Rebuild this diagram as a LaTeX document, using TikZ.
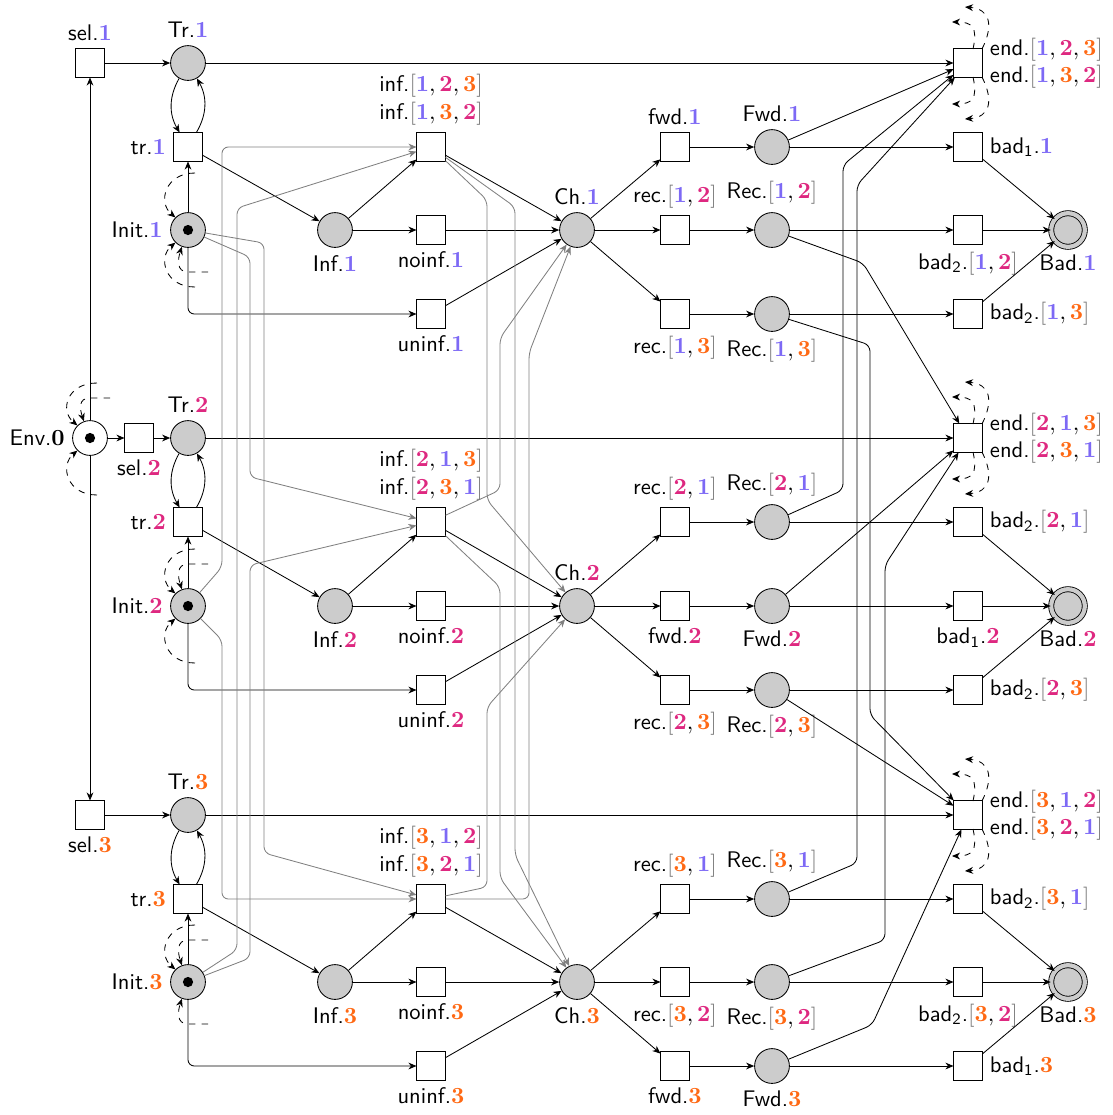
\documentclass[tikz,border=0pt]{standalone}
\usepackage{xcolor}
\usepackage{tikz}
\usetikzlibrary{arrows.meta}

\definecolor{cA}{RGB}{125,105,245}
\definecolor{cB}{RGB}{222,40,128}
\definecolor{cC}{RGB}{255,105,20}
\definecolor{brk}{RGB}{120,120,120}
\newcommand{\iA}{{\color{cA}\mathbf{1}}}
\newcommand{\iB}{{\color{cB}\mathbf{2}}}
\newcommand{\iC}{{\color{cC}\mathbf{3}}}
\newcommand{\lbk}{{\color{brk}[}}
\newcommand{\rbk}{{\color{brk}]}}

\begin{document}
\begin{tikzpicture}[x=0.016667cm, y=-0.016667cm,
  font=\sffamily\fontsize{10.7}{13}\selectfont,
  place/.style={circle,draw,fill=black!20,minimum size=5.8mm,inner sep=0pt},
  trans/.style={rectangle,draw,fill=white,minimum size=4.7mm,inner sep=0pt},
  marked/.style={path picture={\fill[black] (path picture bounding box.center) circle[radius=0.85mm];}},
  badp/.style={place,minimum size=5.6mm,double=black!20,double distance=2pt},
  flow/.style={-{Stealth[length=3.8pt,width=3.2pt,inset=1.2pt]}},
  gflow/.style={flow,gray,rounded corners=3pt},
  ghost/.style={flow,dashed}
]
\useasboundingbox (0,0) rectangle (1113,1115);

% environment and selection
\node[place,fill=white,marked,label={left:{Env.$\mathbf{0}$}}] (Env0) at (90,438) {};
\node[trans,label={above:{sel.$\iA$}}] (sel1) at (90,63) {};
\node[trans,label={below:{sel.$\iB$}}] (sel2) at (139,438) {};
\node[trans,label={below:{sel.$\iC$}}] (sel3) at (90,815) {};

% group 1
\node[place,label={above:{Tr.$\iA$}}] (Tr1) at (188,63) {};
\node[trans,label={left:{tr.$\iA$}}] (tr1) at (188,147) {};
\node[place,marked,label={left:{Init.$\iA$}}] (I1) at (188,230) {};
\node[place,label={below:{Inf.$\iA$}}] (Inf1) at (335,230) {};
\node[trans,label={[align=center]above:{inf.$\lbk\iA,\iB,\iC\rbk$\\inf.$\lbk\iA,\iC,\iB\rbk$}}] (inf1) at (431,147) {};
\node[trans,label={below:{noinf.$\iA$}}] (ninf1) at (431,230) {};
\node[trans,label={below:{uninf.$\iA$}}] (uinf1) at (431,314) {};
\node[place,label={above:{Ch.$\iA$}}] (Ch1) at (577,230) {};
\node[trans,label={above:{fwd.$\iA$}}] (fwd1) at (675,147) {};
\node[trans,label={above:{rec.$\lbk\iA,\iB\rbk$}}] (rec12) at (675,230) {};
\node[trans,label={below:{rec.$\lbk\iA,\iC\rbk$}}] (rec13) at (675,314) {};
\node[place,label={above:{Fwd.$\iA$}}] (Fwd1) at (772,147) {};
\node[place,label={above:{Rec.$\lbk\iA,\iB\rbk$}}] (Rec12) at (772,230) {};
\node[place,label={below:{Rec.$\lbk\iA,\iC\rbk$}}] (Rec13) at (772,314) {};
\node[trans,label={[align=left]right:{end.$\lbk\iA,\iB,\iC\rbk$\\end.$\lbk\iA,\iC,\iB\rbk$}}] (end1) at (968,63) {};
\node[trans,label={right:{bad\textsubscript{1}.$\iA$}}] (bad11) at (968,147) {};
\node[trans,label={below:{bad\textsubscript{2}.$\lbk\iA,\iB\rbk$}}] (bad212) at (968,230) {};
\node[trans,label={right:{bad\textsubscript{2}.$\lbk\iA,\iC\rbk$}}] (bad213) at (968,314) {};
\node[badp,label={below:{Bad.$\iA$}}] (Bad1) at (1068,230) {};

% group 2
\node[place,label={above:{Tr.$\iB$}}] (Tr2) at (188,438) {};
\node[trans,label={left:{tr.$\iB$}}] (tr2) at (188,522) {};
\node[place,marked,label={left:{Init.$\iB$}}] (I2) at (188,606) {};
\node[place,label={below:{Inf.$\iB$}}] (Inf2) at (335,606) {};
\node[trans,label={[align=center]above:{inf.$\lbk\iB,\iA,\iC\rbk$\\inf.$\lbk\iB,\iC,\iA\rbk$}}] (inf2) at (431,522) {};
\node[trans,label={below:{noinf.$\iB$}}] (ninf2) at (431,606) {};
\node[trans,label={below:{uninf.$\iB$}}] (uinf2) at (431,690) {};
\node[place,label={above:{Ch.$\iB$}}] (Ch2) at (577,606) {};
\node[trans,label={above:{rec.$\lbk\iB,\iA\rbk$}}] (rec21) at (675,522) {};
\node[trans,label={below:{fwd.$\iB$}}] (fwd2) at (675,606) {};
\node[trans,label={below:{rec.$\lbk\iB,\iC\rbk$}}] (rec23) at (675,690) {};
\node[place,label={above:{Rec.$\lbk\iB,\iA\rbk$}}] (Rec21) at (772,522) {};
\node[place,label={below:{Fwd.$\iB$}}] (Fwd2) at (772,606) {};
\node[place,label={below:{Rec.$\lbk\iB,\iC\rbk$}}] (Rec23) at (772,690) {};
\node[trans,label={[align=left]right:{end.$\lbk\iB,\iA,\iC\rbk$\\end.$\lbk\iB,\iC,\iA\rbk$}}] (end2) at (968,438) {};
\node[trans,label={right:{bad\textsubscript{2}.$\lbk\iB,\iA\rbk$}}] (bad221) at (968,522) {};
\node[trans,label={below:{bad\textsubscript{1}.$\iB$}}] (bad12) at (968,606) {};
\node[trans,label={right:{bad\textsubscript{2}.$\lbk\iB,\iC\rbk$}}] (bad223) at (968,690) {};
\node[badp,label={below:{Bad.$\iB$}}] (Bad2) at (1068,606) {};

% group 3
\node[place,label={above:{Tr.$\iC$}}] (Tr3) at (188,815) {};
\node[trans,label={left:{tr.$\iC$}}] (tr3) at (188,899) {};
\node[place,marked,label={left:{Init.$\iC$}}] (I3) at (188,982) {};
\node[place,label={below:{Inf.$\iC$}}] (Inf3) at (335,982) {};
\node[trans,label={[align=center]above:{inf.$\lbk\iC,\iA,\iB\rbk$\\inf.$\lbk\iC,\iB,\iA\rbk$}}] (inf3) at (431,899) {};
\node[trans,label={below:{noinf.$\iC$}}] (ninf3) at (431,982) {};
\node[trans,label={below:{uninf.$\iC$}}] (uinf3) at (431,1066) {};
\node[place,label={below:{Ch.$\iC$}}] (Ch3) at (577,982) {};
\node[trans,label={above:{rec.$\lbk\iC,\iA\rbk$}}] (rec31) at (675,899) {};
\node[trans,label={below:{rec.$\lbk\iC,\iB\rbk$}}] (rec32) at (675,982) {};
\node[trans,label={below:{fwd.$\iC$}}] (fwd3) at (675,1066) {};
\node[place,label={above:{Rec.$\lbk\iC,\iA\rbk$}}] (Rec31) at (772,899) {};
\node[place,label={below:{Rec.$\lbk\iC,\iB\rbk$}}] (Rec32) at (772,982) {};
\node[place,label={below:{Fwd.$\iC$}}] (Fwd3) at (772,1066) {};
\node[trans,label={[align=left]right:{end.$\lbk\iC,\iA,\iB\rbk$\\end.$\lbk\iC,\iB,\iA\rbk$}}] (end3) at (968,815) {};
\node[trans,label={right:{bad\textsubscript{2}.$\lbk\iC,\iA\rbk$}}] (bad231) at (968,899) {};
\node[trans,label={below:{bad\textsubscript{2}.$\lbk\iC,\iB\rbk$}}] (bad232) at (968,982) {};
\node[trans,label={right:{bad\textsubscript{1}.$\iC$}}] (bad13) at (968,1066) {};
\node[badp,label={below:{Bad.$\iC$}}] (Bad3) at (1068,982) {};

% selection arcs
\draw[flow] (Env0) -- (sel1);
\draw[flow] (Env0) -- (sel2);
\draw[flow] (Env0) -- (sel3);
\draw[flow] (sel1) -- (Tr1);
\draw[flow] (sel2) -- (Tr2);
\draw[flow] (sel3) -- (Tr3);

% group 1 arcs
\draw[flow] (Tr1) to[bend right=30] (tr1);
\draw[flow] (tr1) to[bend right=30] (Tr1);
\draw[flow] (I1) -- (tr1);
\draw[flow] (tr1) -- (Inf1);
\draw[flow,rounded corners=3pt] (I1) |- (uinf1);
\draw[flow] (Inf1) -- (inf1);
\draw[flow] (Inf1) -- (ninf1);
\draw[flow] (inf1) -- (Ch1);
\draw[flow] (ninf1) -- (Ch1);
\draw[flow] (uinf1) -- (Ch1);
\draw[flow] (Ch1) -- (fwd1);
\draw[flow] (Ch1) -- (rec12);
\draw[flow] (Ch1) -- (rec13);
\draw[flow] (fwd1) -- (Fwd1);
\draw[flow] (rec12) -- (Rec12);
\draw[flow] (rec13) -- (Rec13);
\draw[flow] (Tr1) -- (end1);
\draw[flow] (Fwd1) -- (end1);
\draw[flow] (Fwd1) -- (bad11);
\draw[flow] (Rec12) -- (bad212);
\draw[flow] (Rec13) -- (bad213);
\draw[flow] (bad11) -- (Bad1);
\draw[flow] (bad212) -- (Bad1);
\draw[flow] (bad213) -- (Bad1);
\draw[flow,rounded corners=3pt] (Rec12) -- (863,263) -- (end2);
\draw[flow,rounded corners=3pt] (Rec13) -- (870,345) -- (870,715) -- (end3);

% group 2 arcs
\draw[flow] (Tr2) to[bend right=30] (tr2);
\draw[flow] (tr2) to[bend right=30] (Tr2);
\draw[flow] (I2) -- (tr2);
\draw[flow] (tr2) -- (Inf2);
\draw[flow,rounded corners=3pt] (I2) |- (uinf2);
\draw[flow] (Inf2) -- (inf2);
\draw[flow] (Inf2) -- (ninf2);
\draw[flow] (inf2) -- (Ch2);
\draw[flow] (ninf2) -- (Ch2);
\draw[flow] (uinf2) -- (Ch2);
\draw[flow] (Ch2) -- (rec21);
\draw[flow] (Ch2) -- (fwd2);
\draw[flow] (Ch2) -- (rec23);
\draw[flow] (rec21) -- (Rec21);
\draw[flow] (fwd2) -- (Fwd2);
\draw[flow] (rec23) -- (Rec23);
\draw[flow] (Tr2) -- (end2);
\draw[flow] (Fwd2) -- (end2);
\draw[flow] (Fwd2) -- (bad12);
\draw[flow] (Rec21) -- (bad221);
\draw[flow] (Rec23) -- (bad223);
\draw[flow] (bad221) -- (Bad2);
\draw[flow] (bad12) -- (Bad2);
\draw[flow] (bad223) -- (Bad2);
\draw[flow,rounded corners=3pt] (Rec21) -- (843,490) -- (843,165) -- (end1);
\draw[flow] (Rec23) -- (end3);

% group 3 arcs
\draw[flow] (Tr3) to[bend right=30] (tr3);
\draw[flow] (tr3) to[bend right=30] (Tr3);
\draw[flow] (I3) -- (tr3);
\draw[flow] (tr3) -- (Inf3);
\draw[flow,rounded corners=3pt] (I3) |- (uinf3);
\draw[flow] (Inf3) -- (inf3);
\draw[flow] (Inf3) -- (ninf3);
\draw[flow] (inf3) -- (Ch3);
\draw[flow] (ninf3) -- (Ch3);
\draw[flow] (uinf3) -- (Ch3);
\draw[flow] (Ch3) -- (rec31);
\draw[flow] (Ch3) -- (rec32);
\draw[flow] (Ch3) -- (fwd3);
\draw[flow] (rec31) -- (Rec31);
\draw[flow] (rec32) -- (Rec32);
\draw[flow] (fwd3) -- (Fwd3);
\draw[flow] (Tr3) -- (end3);
\draw[flow,rounded corners=3pt] (Fwd3) -- (872,1025) -- (end3);
\draw[flow] (Fwd3) -- (bad13);
\draw[flow] (Rec31) -- (bad231);
\draw[flow] (Rec32) -- (bad232);
\draw[flow] (bad231) -- (Bad3);
\draw[flow] (bad232) -- (Bad3);
\draw[flow] (bad13) -- (Bad3);
\draw[flow,rounded corners=3pt] (Rec31) -- (857,863) -- (857,185) -- (end1);
\draw[flow,rounded corners=3pt] (Rec32) -- (885,940) -- (885,565) -- (end2);

% infection arcs (grey)
\draw[gflow] (I1) -- (250,257) -- (250,477) -- (inf2);
\draw[gflow] (I1) -- (264,243) -- (264,853) -- (inf3);
\draw[gflow] (I2) -- (222,567) -- (222,147) -- (inf1);
\draw[gflow] (I2) -- (222,640) -- (222,899) -- (inf3);
\draw[gflow] (I3) -- (237,950) -- (237,208) -- (inf1);
\draw[gflow] (I3) -- (250,958) -- (250,565) -- (inf2);
\draw[gflow] (inf1) -- (487,200) -- (487,500) -- (Ch2);
\draw[gflow] (inf1) -- (515,207) -- (515,855) -- (Ch3);
\draw[gflow] (inf2) -- (500,490) -- (500,338) -- (Ch1);
\draw[gflow] (inf2) -- (500,587) -- (500,878) -- (Ch3);
\draw[gflow] (inf3) -- (529,899) -- (529,353) -- (Ch1);
\draw[gflow] (inf3) -- (487,887) -- (487,707) -- (Ch2);

% dashed arcs to omitted parts
\draw[ghost] (Env0) ++(7,-55) .. controls +(-30,0) and +(-18,-15) .. (Env0.135);
\draw[ghost] (Env0) ++(20,-40) -- ++(-20,0) .. controls +(-12,0) and +(-4,-12) .. (Env0.110);
\draw[ghost] (Env0) ++(7,57) .. controls +(-30,0) and +(-18,15) .. (Env0.225);
\draw[ghost] (I1) ++(7,-57) .. controls +(-30,0) and +(-18,-15) .. (I1.135);
\draw[ghost] (I1) ++(20,42) -- ++(-20,0) .. controls +(-12,0) and +(-4,12) .. (I1.250);
\draw[ghost] (I1) ++(7,57) .. controls +(-30,0) and +(-18,15) .. (I1.225);
\draw[ghost] (I2) ++(7,-57) .. controls +(-30,0) and +(-18,-15) .. (I2.135);
\draw[ghost] (I2) ++(20,-42) -- ++(-20,0) .. controls +(-12,0) and +(-4,-12) .. (I2.110);
\draw[ghost] (I2) ++(7,57) .. controls +(-30,0) and +(-18,15) .. (I2.225);
\draw[ghost] (I3) ++(7,-57) .. controls +(-30,0) and +(-18,-15) .. (I3.135);
\draw[ghost] (I3) ++(20,-42) -- ++(-20,0) .. controls +(-12,0) and +(-4,-12) .. (I3.110);
\draw[ghost] (I3) ++(20,42) -- ++(-20,0) .. controls +(-12,0) and +(-4,12) .. (I3.250);
\draw[ghost] (end1) ++(5,-14) .. controls +(5,-22) and +(20,0) .. ++(-21,-27);
\draw[ghost] (end1) ++(14,-14) .. controls +(12,-24) and +(25,2) .. ++(-17,-42);
\draw[ghost] (end1) ++(5,14) .. controls +(5,22) and +(20,0) .. ++(-21,27);
\draw[ghost] (end1) ++(14,14) .. controls +(12,24) and +(25,-2) .. ++(-17,42);
\draw[ghost] (end2) ++(5,-14) .. controls +(5,-22) and +(20,0) .. ++(-21,-27);
\draw[ghost] (end2) ++(14,-14) .. controls +(12,-24) and +(25,2) .. ++(-17,-42);
\draw[ghost] (end2) ++(5,14) .. controls +(5,22) and +(20,0) .. ++(-21,27);
\draw[ghost] (end2) ++(14,14) .. controls +(12,24) and +(25,-2) .. ++(-17,42);
\draw[ghost] (end3) ++(5,-14) .. controls +(5,-22) and +(20,0) .. ++(-21,-27);
\draw[ghost] (end3) ++(14,-14) .. controls +(12,-24) and +(25,2) .. ++(-17,-42);
\draw[ghost] (end3) ++(5,14) .. controls +(5,22) and +(20,0) .. ++(-21,27);
\draw[ghost] (end3) ++(14,14) .. controls +(12,24) and +(25,-2) .. ++(-17,42);
\end{tikzpicture}
\end{document}
